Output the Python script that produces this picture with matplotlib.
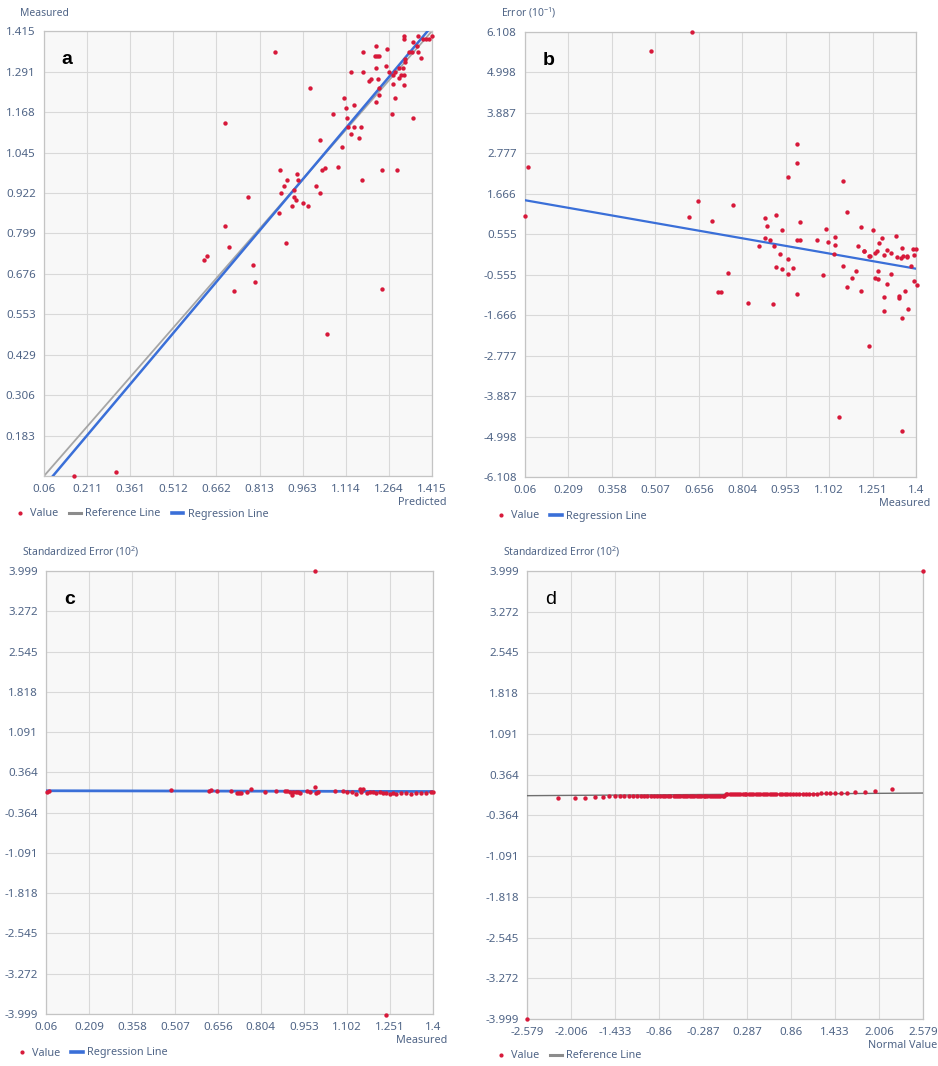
import matplotlib.pyplot as plt
from matplotlib.lines import Line2D

plt.rcParams["font.family"] = ["Noto Sans", "DejaVu Sans"]
plt.rcParams["mathtext.default"] = "regular"

RED = "#d7193a"
BLUE = "#3a6fd8"
GREY = "#8c8c8c"
TICK_COLOR = "#4f6486"

# panel a: predicted vs measured
pred_a = [0.865, 0.691, 0.988, 1.070, 1.109, 1.115, 1.144, 1.119, 1.121, 1.142,
          1.168, 1.133, 1.159, 1.100, 1.025, 1.087, 1.032, 1.040, 1.172, 1.239,
          1.292, 1.275, 1.349, 1.286, 1.220, 1.229, 1.220, 1.227, 1.194, 1.202,
          1.231, 1.133, 1.173, 1.175, 1.220, 1.215, 1.223, 1.231, 1.258, 1.255,
          1.264, 1.278, 1.286, 1.299, 1.301, 1.313, 1.307, 1.316, 1.316, 1.320,
          1.322, 1.336, 1.344, 1.367, 1.376, 1.349, 1.316, 1.316, 1.365, 1.383,
          1.395, 1.406, 1.414, 1.362, 1.278, 0.884, 0.944, 0.907, 0.947, 0.898,
          0.886, 0.933, 1.009, 1.025, 0.933, 0.941, 0.966, 0.981, 0.926, 0.772,
          0.880, 0.691, 0.706, 0.904, 0.618, 0.629, 0.791, 0.796, 0.725, 1.239,
          1.049, 0.166, 0.310]
meas_a = [1.352, 1.135, 1.240, 1.161, 1.212, 1.181, 1.190, 1.151, 1.122, 1.122,
          1.122, 1.100, 1.089, 1.061, 1.082, 1.000, 0.992, 0.999, 0.960, 0.992,
          0.992, 1.161, 1.151, 1.212, 1.200, 1.220, 1.301, 1.269, 1.263, 1.269,
          1.240, 1.291, 1.291, 1.352, 1.370, 1.340, 1.340, 1.340, 1.359, 1.309,
          1.291, 1.281, 1.291, 1.271, 1.301, 1.301, 1.281, 1.281, 1.251, 1.321,
          1.330, 1.352, 1.352, 1.352, 1.332, 1.380, 1.400, 1.392, 1.400, 1.392,
          1.392, 1.392, 1.400, 1.370, 1.255, 0.992, 0.981, 0.960, 0.960, 0.942,
          0.922, 0.932, 0.942, 0.922, 0.909, 0.899, 0.892, 0.882, 0.882, 0.909,
          0.861, 0.820, 0.757, 0.770, 0.719, 0.729, 0.701, 0.650, 0.622, 0.629,
          0.491, 0.060, 0.071]
reg_a = (1.0352, -0.0342)
xticks_a = ["0.06", "0.211", "0.361", "0.512", "0.662", "0.813", "0.963", "1.114", "1.264", "1.415"]
yticks_a = ["0.06", "0.183", "0.306", "0.429", "0.553", "0.676", "0.799", "0.922", "1.045",
            "1.168", "1.291", "1.415"]

# panel b: measured vs error (10^-1)
meas_b = [0.631, 0.491, 0.071, 0.061, 0.991, 0.992, 0.962, 1.151, 1.162, 0.652,
          0.772, 0.622, 0.700, 0.882, 0.920, 0.890, 1.001, 0.942, 1.090, 1.210,
          1.251, 0.882, 0.900, 0.912, 0.861, 0.993, 1.002, 1.062, 1.100, 1.122,
          1.122, 1.202, 1.221, 1.274, 1.283, 1.331, 1.351, 1.268, 1.299, 1.316,
          1.391, 1.400, 1.393, 1.370, 1.348, 1.334, 1.290, 1.260, 1.243, 0.933,
          0.962, 0.920, 0.942, 0.980, 0.962, 0.993, 0.757, 0.721, 0.733, 0.823,
          0.911, 1.082, 1.120, 1.151, 1.162, 1.182, 1.193, 1.210, 1.223, 1.240,
          1.260, 1.270, 1.271, 1.292, 1.292, 1.299, 1.313, 1.342, 1.342, 1.363,
          1.372, 1.351, 1.382, 1.393, 1.402, 1.354, 1.370, 1.240, 1.136, 1.351]
err_b = [6.10, 5.60, 2.41, 1.05, 3.03, 2.50, 2.12, 2.03, 1.17, 1.48,
         1.36, 1.02, 0.91, 1.00, 1.08, 0.78, 0.88, 0.68, 0.71, 0.76,
         0.67, 0.45, 0.41, 0.23, 0.22, 0.41, 0.39, 0.41, 0.34, 0.48,
         0.25, 0.23, 0.10, 0.32, 0.44, 0.50, 0.19, 0.10, 0.13, 0.04,
         0.14, 0.14, 0.00, -0.07, -0.10, -0.07, -0.02, 0.04, -0.05, 0.02,
         -0.11, -0.33, -0.41, -0.36, -0.53, -1.08, -0.51, -1.03, -1.03, -1.32,
         -1.36, -0.55, 0.02, -0.32, -0.89, -0.65, -0.45, -1.01, 0.09, -0.04,
         -0.65, -0.66, -0.44, -1.17, -1.56, -0.80, -0.53, -1.14, -1.19, -1.00,
         -1.49, -1.75, -0.32, -0.73, -0.83, -0.05, -0.05, -2.51, -4.47, -4.85]
reg_b = (-1.403, 1.574)
xticks_m = ["0.06", "0.209", "0.358", "0.507", "0.656", "0.804", "0.953", "1.102", "1.251", "1.4"]
yticks_b = ["-6.108", "-4.998", "-3.887", "-2.777", "-1.666", "-0.555", "0.555", "1.666",
            "2.777", "3.887", "4.998", "6.108"]

# panel c: measured vs standardized error (10^2)
meas_c = [0.063, 0.072, 0.492, 0.625, 0.633, 0.652, 0.700, 0.720, 0.728, 0.734,
          0.756, 0.771, 0.820, 0.858, 0.887, 0.895, 0.904, 0.912, 0.916, 0.924,
          0.933, 0.941, 0.962, 0.973, 0.991, 0.991, 0.995, 1.001, 1.061, 1.090,
          1.101, 1.118, 1.135, 1.146, 1.158, 1.152, 1.170, 1.181, 1.193, 1.204,
          1.216, 1.227, 1.238, 1.250, 1.262, 1.273, 1.290, 1.308, 1.325, 1.342,
          1.360, 1.377, 1.394, 1.400, 1.238]
stderr_c = [0.018, 0.030, 0.048, 0.036, 0.048, 0.024, 0.024, -0.012, -0.012, -0.012,
            0.018, 0.060, 0.018, 0.024, 0.024, 0.036, 0.018, -0.042, 0.006, 0.006,
            0.018, -0.012, 0.024, 0.006, 3.999, 0.107, -0.012, 0.006, 0.024, 0.024,
            0.006, 0.006, -0.024, 0.066, 0.066, 0.006, -0.006, 0.006, 0.006, -0.006,
            0.006, -0.012, 0.000, -0.036, -0.012, -0.024, -0.006, -0.012, -0.036, -0.012,
            -0.006, -0.006, 0.006, 0.006, -4.02]
reg_c = (-0.010, 0.032)
yticks_c = ["-3.999", "-3.272", "-2.545", "-1.818", "-1.091", "-0.364", "0.364", "1.091",
            "1.818", "2.545", "3.272", "3.999"]

# panel d: normal QQ plot of standardized error (10^2)
normal_d = [-2.579, -2.17, -1.96, -1.82, -1.69, -1.59, -1.51, -1.43, -1.37, -1.31,
            -1.25, -1.20, -1.15, -1.10, -1.05, -1.01, -0.97, -0.93, -0.89, -0.85,
            -0.81, -0.78, -0.74, -0.71, -0.67, -0.64, -0.61, -0.58, -0.55, -0.52,
            -0.49, -0.46, -0.43, -0.40, -0.37, -0.34, -0.31, -0.28, -0.26, -0.23,
            -0.20, -0.17, -0.14, -0.12, -0.09, -0.06, -0.03, -0.01, 0.01, 0.03,
            0.06, 0.09, 0.12, 0.14, 0.17, 0.20, 0.23, 0.26, 0.28, 0.31,
            0.34, 0.37, 0.40, 0.43, 0.46, 0.49, 0.52, 0.55, 0.58, 0.61,
            0.64, 0.67, 0.71, 0.74, 0.78, 0.81, 0.85, 0.89, 0.93, 0.97,
            1.01, 1.05, 1.10, 1.15, 1.20, 1.25, 1.31, 1.37, 1.43, 1.51,
            1.59, 1.69, 1.82, 1.96, 2.17, 2.579]
stderr_d = [-3.999, -0.047, -0.047, -0.047, -0.036, -0.030, -0.026, -0.020, -0.018, -0.016,
            -0.014, -0.012, -0.012, -0.010, -0.010, -0.010, -0.010, -0.010, -0.010, -0.010,
            -0.010, -0.010, -0.010, -0.010, -0.010, -0.010, -0.010, -0.010, -0.010, -0.012,
            -0.012, -0.012, -0.012, -0.012, -0.012, -0.012, -0.012, -0.012, -0.012, -0.012,
            -0.012, -0.012, -0.012, -0.012, -0.012, -0.012, -0.012, -0.012, 0.015, 0.015,
            0.015, 0.015, 0.015, 0.015, 0.015, 0.015, 0.014, 0.014, 0.014, 0.014,
            0.013, 0.013, 0.013, 0.013, 0.013, 0.013, 0.013, 0.013, 0.013, 0.013,
            0.013, 0.013, 0.013, 0.013, 0.013, 0.013, 0.013, 0.013, 0.013, 0.013,
            0.013, 0.013, 0.015, 0.020, 0.026, 0.028, 0.030, 0.030, 0.030, 0.030,
            0.035, 0.047, 0.053, 0.070, 0.100, 3.999]
ref_d = (0.0091, 0.0115)
xticks_d = ["-2.579", "-2.006", "-1.433", "-0.86", "-0.287", "0.287", "0.86", "1.433", "2.006", "2.579"]

W, H = 938, 1066
fig = plt.figure(figsize=(W / 100, H / 100), dpi=100)


def make_axes(left, right, top, bottom):
    ax = fig.add_axes([left / W, 1 - bottom / H, (right - left) / W, (bottom - top) / H])
    ax.set_facecolor("#f8f8f8")
    for s in ax.spines.values():
        s.set_color("#c4c4c4")
        s.set_linewidth(0.9)
    ax.grid(True, color="#d9d9d9", linewidth=0.8)
    ax.set_axisbelow(True)
    ax.tick_params(length=0, labelsize=8.3, labelcolor=TICK_COLOR, pad=6)
    return ax


def set_ticks(ax, xlabels, ylabels, hide_y0=False):
    xs = [float(t) for t in xlabels]
    ys = [float(t) for t in ylabels]
    ax.set_xlim(xs[0], xs[-1])
    ax.set_ylim(ys[0], ys[-1])
    ax.set_xticks(xs)
    ax.set_xticklabels(xlabels)
    ax.set_yticks(ys)
    ylab = list(ylabels)
    if hide_y0:
        ylab[0] = ""
    ax.set_yticklabels(ylab)


def decorate(ax, letter, ytitle, xtitle, handles, labels, ltx, lty, letter_bold=True):
    pos = ax.get_position()
    fig.text(pos.x0 - 24 / W, pos.y1 + 12 / H, ytitle, fontsize=7.4, color=TICK_COLOR,
             ha="left", va="bottom")
    fig.text(pos.x1 + 14 / W, pos.y0 - 21 / H, xtitle, fontsize=7.8, color=TICK_COLOR,
             ha="right", va="top")
    ax.text(0.06, 0.955, letter, transform=ax.transAxes, fontsize=14,
            fontweight="bold" if letter_bold else "normal", family="Liberation Sans",
            va="top", ha="center")
    fig.legend(handles, labels, loc="center left", bbox_to_anchor=(ltx / W, 1 - lty / H),
               ncol=len(handles), frameon=False, fontsize=7.8, handlelength=1.1,
               handletextpad=0.4, columnspacing=1.0, labelcolor=TICK_COLOR)


dot = Line2D([], [], marker="o", color=RED, linestyle="none", markersize=2.0)
ref_handle = Line2D([], [], color=GREY, linewidth=2.2)
reg_handle = Line2D([], [], color=BLUE, linewidth=2.6)
sc_kw = dict(s=10, color=RED, linewidths=0, zorder=4, clip_on=False)

# a
ax = make_axes(44, 432, 31, 476)
set_ticks(ax, xticks_a, yticks_a, hide_y0=True)
x0, x1 = 0.06, 1.415
ax.plot([x0, x1], [x0, x1], color="#a6a6a6", linewidth=1.3, zorder=2)
ax.plot([x0, x1], [reg_a[0] * x0 + reg_a[1], reg_a[0] * x1 + reg_a[1]], color=BLUE,
        linewidth=1.8, zorder=3)
ax.scatter(pred_a, meas_a, **sc_kw)
decorate(ax, "a", "Measured", "Predicted", [dot, ref_handle, reg_handle],
         ["Value", "Reference Line", "Regression Line"], 4, 514)

# b
ax = make_axes(525, 916, 32, 477)
set_ticks(ax, xticks_m, yticks_b)
x0, x1 = 0.06, 1.4
ax.plot([x0, x1], [reg_b[0] * x0 + reg_b[1], reg_b[0] * x1 + reg_b[1]], color=BLUE,
        linewidth=1.6, zorder=3)
ax.scatter(meas_b, err_b, **sc_kw)
decorate(ax, "b", "Error (10$^{-1}$)", "Measured", [dot, reg_handle],
         ["Value", "Regression Line"], 485, 516)

# c
ax = make_axes(46, 433, 571, 1014)
set_ticks(ax, xticks_m, yticks_c)
ax.plot([x0, x1], [reg_c[0] * x0 + reg_c[1], reg_c[0] * x1 + reg_c[1]], color=BLUE,
        linewidth=2.0, zorder=3)
ax.scatter(meas_c, stderr_c, **sc_kw)
decorate(ax, "c", "Standardized Error (10$^{2}$)", "Measured", [dot, reg_handle],
         ["Value", "Regression Line"], 6, 1053)

# d
ax = make_axes(527, 923, 571, 1019)
set_ticks(ax, xticks_d, yticks_c)
x0, x1 = -2.579, 2.579
ax.plot([x0, x1], [ref_d[0] * x0 + ref_d[1], ref_d[0] * x1 + ref_d[1]], color="#6f6f6f",
        linewidth=1.0, zorder=3)
ax.scatter(normal_d, stderr_d, **sc_kw)
decorate(ax, "d", "Standardized Error (10$^{2}$)", "Normal Value", [dot, ref_handle],
         ["Value", "Reference Line"], 485, 1056, letter_bold=False)

fig.savefig("out.png", dpi=100, facecolor="white")
